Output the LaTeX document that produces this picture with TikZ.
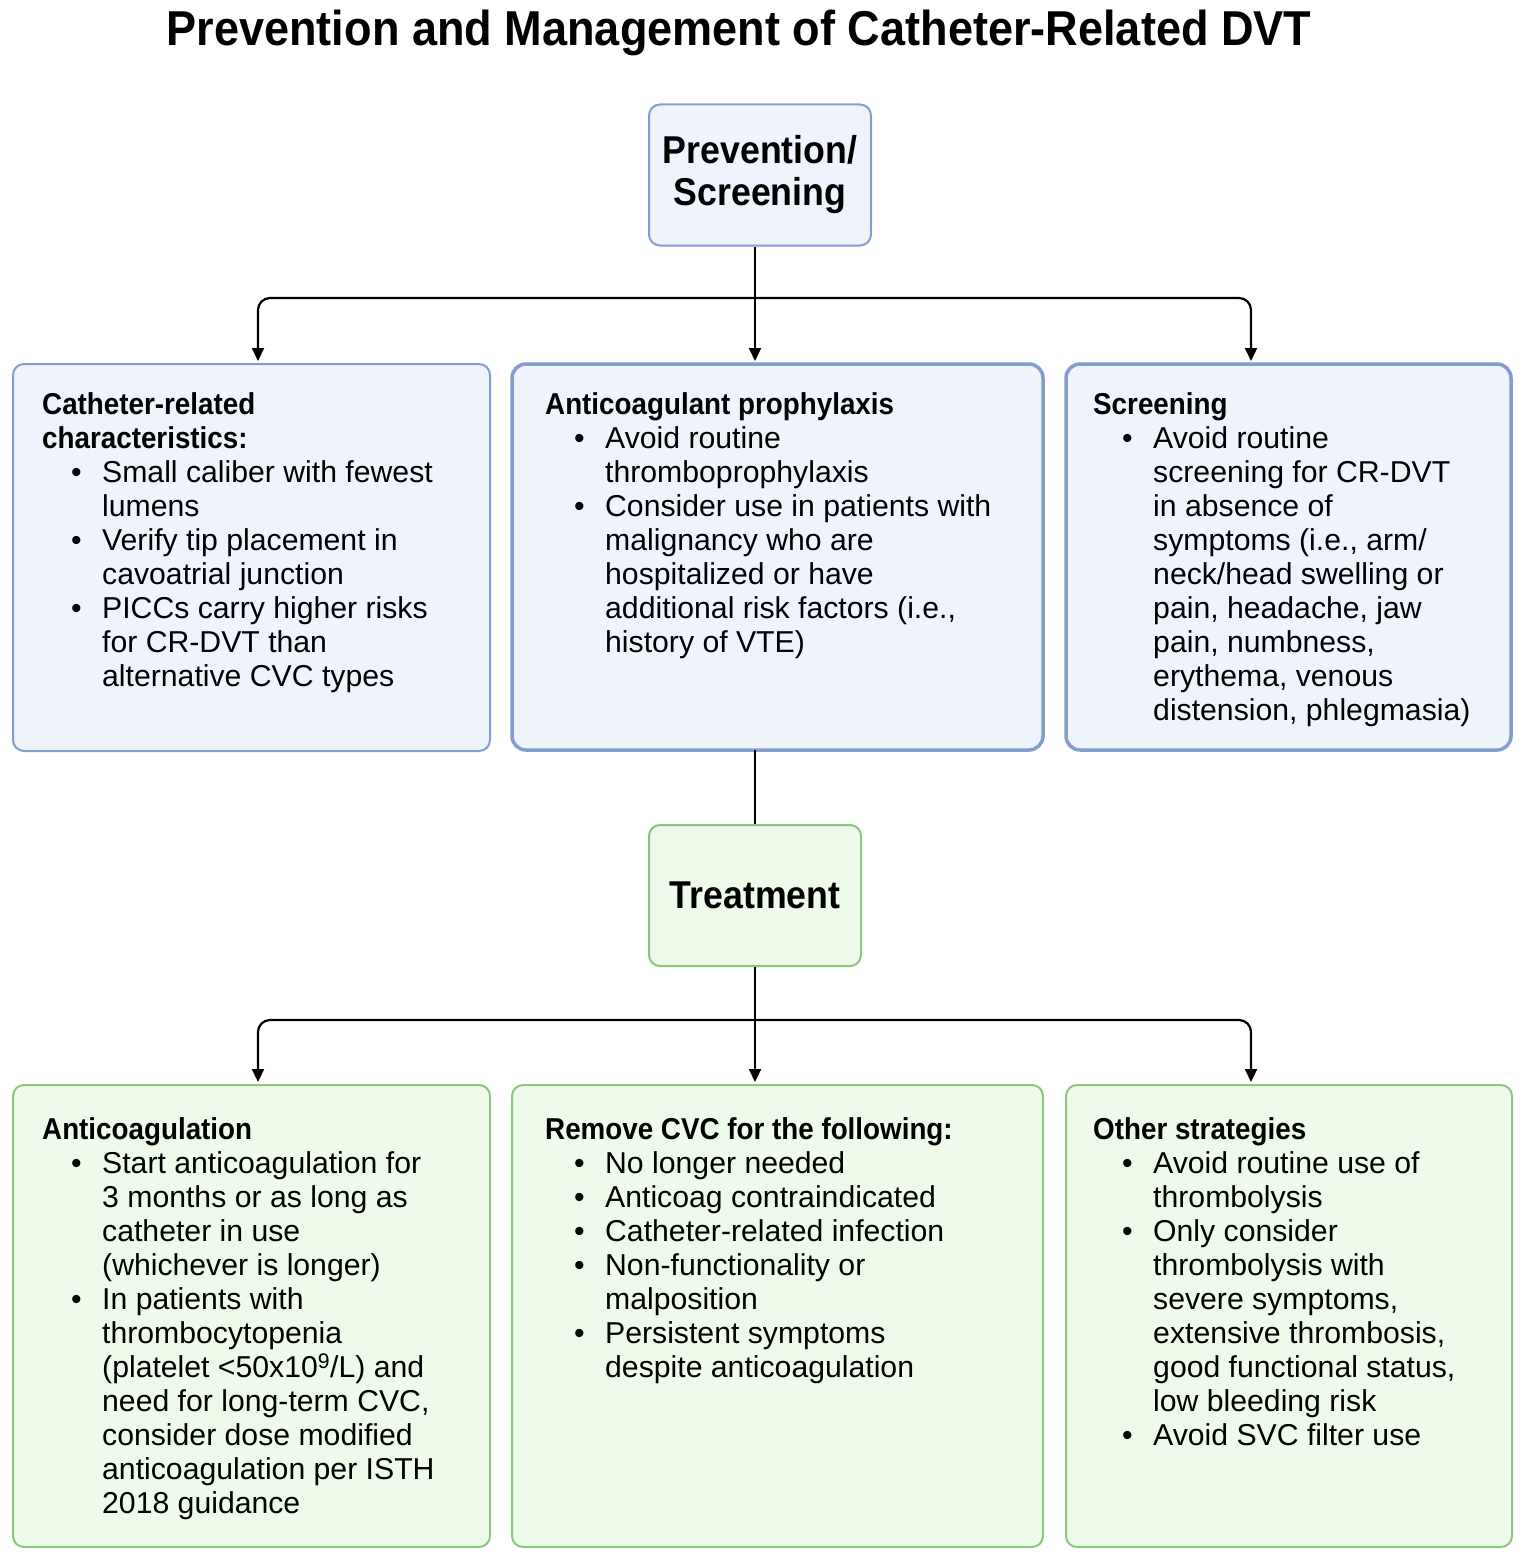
\documentclass[tikz,border=0pt]{standalone}
\usepackage{fontspec}
\setmainfont{Liberation Sans}[BoldFeatures={FakeStretch=0.92}]
\usepackage{tikz}
\usetikzlibrary{arrows.meta, positioning, calc}

\definecolor{prevfill}{HTML}{EEF3FC}
\definecolor{prevline}{HTML}{859CCF}
\definecolor{treatfill}{HTML}{EEFAEA}
\definecolor{treatline}{HTML}{8EC481}

% bullet and continuation indent
\newcommand{\bitem}{\makebox[60pt][l]{\hspace{29pt}\textbullet}}
\newcommand{\cont}{\hspace*{60pt}}
\newcommand{\topstrut}{\rule{0pt}{24pt}}

\begin{document}
\begin{tikzpicture}[x=1pt, y=-1pt,
        prevbox/.style={draw=prevline, fill=prevfill, line width=2pt, rounded corners=11pt},
        treatbox/.style={draw=treatline, fill=treatfill, line width=2pt, rounded corners=11pt},
        headbox/.style={align=center, font=\fontsize{38.8}{42}\selectfont\bfseries},
        listtext/.style={anchor=north west, align=left, inner sep=0pt, font=\fontsize{30.2}{34}\selectfont},
        arrow/.style={line width=2.2pt, -{Triangle[width=12pt,length=13pt]}, rounded corners=12pt, shorten >=3pt},
        link/.style={line width=2.2pt}
    ]
        \useasboundingbox (0,0) rectangle (1524,1557);

        \node[font=\fontsize{49}{55}\selectfont\bfseries] (title) at (739,33) {Prevention and Management of Catheter-Related DVT};

        % prevention part
        \node[prevbox, headbox, minimum width=222pt, minimum height=141pt] (prev) at (760,175) {Prevention/\\Screening};

        \draw[prevbox] (13,364) rectangle (490,751);
        \draw[prevbox, line width=3.5pt, rounded corners=14pt] (512,364) rectangle (1043,750);
        \draw[prevbox, line width=3.5pt, rounded corners=14pt] (1066,364) rectangle (1511,750);

        \node[listtext] (cat) at (42,390) {\topstrut\textbf{Catheter-related}\\\textbf{characteristics:}\\
            \bitem Small caliber with fewest\\\cont lumens\\
            \bitem Verify tip placement in\\\cont cavoatrial junction\\
            \bitem PICCs carry higher risks\\\cont for CR-DVT than\\\cont alternative CVC types};
        \node[listtext] (pro) at (545,390) {\topstrut\textbf{Anticoagulant prophylaxis}\\
            \bitem Avoid routine\\\cont thromboprophylaxis\\
            \bitem Consider use in patients with\\\cont malignancy who are\\\cont hospitalized or have\\\cont additional risk factors (i.e.,\\\cont history of VTE)};
        \node[listtext] (scr) at (1093,390) {\topstrut\textbf{Screening}\\
            \bitem Avoid routine\\\cont screening for CR-DVT\\\cont in absence of\\\cont symptoms (i.e., arm/\\\cont neck/head swelling or\\\cont pain, headache, jaw\\\cont pain, numbness,\\\cont erythema, venous\\\cont distension, phlegmasia)};

        \coordinate (pj) at (755,298);
        \coordinate (pl) at (258,298);
        \coordinate (pr) at (1251,298);
        \draw[arrow] (pj |- prev.south) -- (pj |- 0,364);
        \draw[arrow] (pj) -- (pl) -- (pl |- 0,364);
        \draw[arrow] (pj) -- (pr) -- (pr |- 0,364);

        % treatment part
        \node[treatbox, headbox, minimum width=212pt, minimum height=141pt] (treat) at (755,895.5) {Treatment};
        \draw[link] (pj |- 0,750) -- (treat.north);

        \draw[treatbox] (13,1085) rectangle (490,1547);
        \draw[treatbox] (512,1085) rectangle (1043,1547);
        \draw[treatbox] (1066,1085) rectangle (1512,1547);

        \node[listtext] (anti) at (42,1115) {\topstrut\textbf{Anticoagulation}\\
            \bitem Start anticoagulation for\\\cont 3 months or as long as\\\cont catheter in use\\\cont (whichever is longer)\\
            \bitem In patients with\\\cont thrombocytopenia\\\cont (platelet <50x10\textsuperscript{9}/L) and\\\cont need for long-term CVC,\\\cont consider dose modified\\\cont anticoagulation per ISTH\\\cont 2018 guidance};
        \node[listtext] (rem) at (545,1115) {\topstrut\textbf{Remove CVC for the following:}\\
            \bitem No longer needed\\
            \bitem Anticoag contraindicated\\
            \bitem Catheter-related infection\\
            \bitem Non-functionality or\\\cont malposition\\
            \bitem Persistent symptoms\\\cont despite anticoagulation};
        \node[listtext] (oth) at (1093,1115) {\topstrut\textbf{Other strategies}\\
            \bitem Avoid routine use of\\\cont thrombolysis\\
            \bitem Only consider\\\cont thrombolysis with\\\cont severe symptoms,\\\cont extensive thrombosis,\\\cont good functional status,\\\cont low bleeding risk\\
            \bitem Avoid SVC filter use};

        \coordinate (tj) at (755,1020);
        \coordinate (tl) at (258,1020);
        \coordinate (tr) at (1251,1020);
        \draw[arrow] (treat.south) -- (tj |- 0,1085);
        \draw[arrow] (tj) -- (tl) -- (tl |- 0,1085);
        \draw[arrow] (tj) -- (tr) -- (tr |- 0,1085);
    \end{tikzpicture}
\end{document}
